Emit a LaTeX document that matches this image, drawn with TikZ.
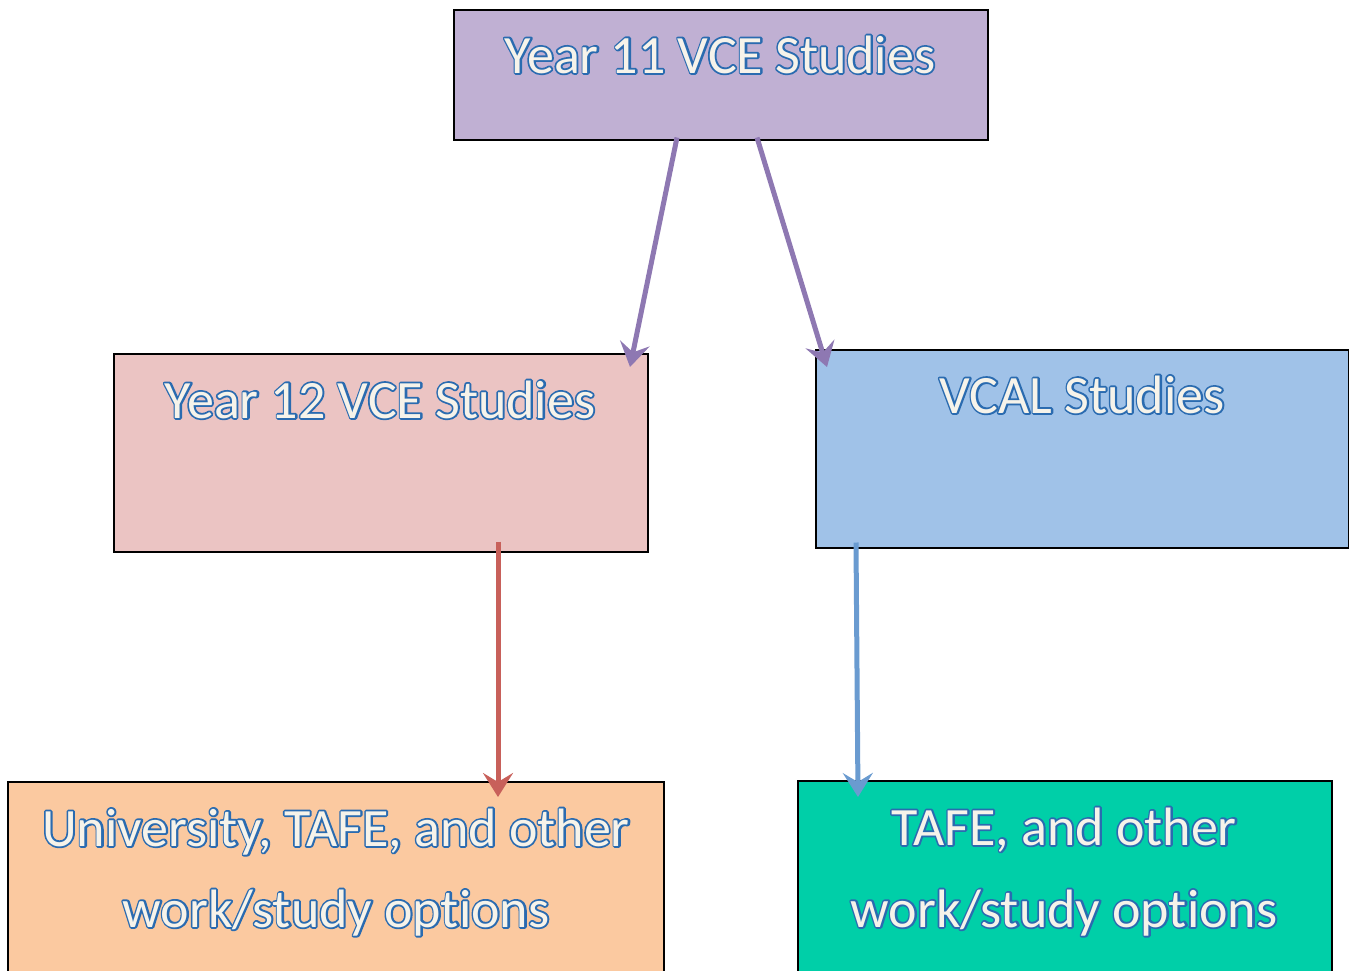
\documentclass[tikz,border=0pt]{standalone}
\usepackage{fontspec}
\setmainfont[Ligatures={NoCommon}]{Carlito}
\usetikzlibrary{arrows.meta,calc}
\definecolor{topfill}{HTML}{C0B0D3}
\definecolor{redfill}{HTML}{EBC4C3}
\definecolor{bluefill}{HTML}{A0C2E8}
\definecolor{orangefill}{HTML}{FBC9A0}
\definecolor{greenfill}{HTML}{00CFA8}
\definecolor{purplearrow}{HTML}{8E78B2}
\definecolor{redarrow}{HTML}{C8605A}
\definecolor{bluearrow}{HTML}{6A9BD0}
\definecolor{txtfill}{HTML}{F6F3EA}
\definecolor{txtline}{HTML}{2A6BB0}
% outline colour 2A6BB0 = 0.165 0.420 0.690
\newcommand{\glowtext}[1]{\rlap{\textcolor{txtline}{\special{pdf:literal direct 2 Tr 3.6 w 1 J 1 j 0.165 0.420 0.690 RG}#1\special{pdf:literal direct 0 Tr 1.5 w 0 J 0 j}}}\textcolor{txtfill}{#1}}
\tikzset{
  box/.style={draw=black, line width=1.5pt, rectangle, inner sep=0pt, anchor=north west},
  lbl/.style={anchor=base, inner sep=0pt, font=\fontsize{54}{60}\selectfont},
  conn/.style={line width=5pt, -{Stealth[length=24pt,width=30pt,inset=9pt]}},
}
\begin{document}
\begin{tikzpicture}[x=1pt,y=-1pt]
\useasboundingbox (0,0) rectangle (1349,970);
\node[box, fill=topfill, minimum width=534pt, minimum height=130pt] (top) at (453,9) {};
\node[box, fill=redfill, minimum width=534pt, minimum height=198pt] (y12) at (113,353) {};
\node[box, fill=bluefill, minimum width=533pt, minimum height=198pt] (vcal) at (815,349) {};
\node[box, fill=orangefill, minimum width=656pt, minimum height=200pt] (uni) at (7,781) {};
\node[box, fill=greenfill, minimum width=534pt, minimum height=200pt] (tafe) at (797,780) {};

\coordinate (a1s) at ($(top.south west)+(224,-3)$);
\coordinate (a1e) at ($(y12.north west)+(517,14)$);
\coordinate (a2s) at ($(top.south west)+(304,-3)$);
\coordinate (a2e) at ($(vcal.north west)+(12,18)$);
\coordinate (a3s) at ($(y12.south west)+(385,-11)$);
\coordinate (a3e) at ($(uni.north west)+(491,16)$);
\coordinate (a4s) at ($(vcal.south west)+(41,-6)$);
\coordinate (a4e) at ($(tafe.north west)+(61,17)$);
\draw[conn, purplearrow] (a1s) -- (a1e);
\draw[conn, purplearrow] (a2s) -- (a2e);
\draw[conn, redarrow] (a3s) -- (a3e);
\draw[conn, bluearrow] (a4s) -- (a4e);

\node[lbl] (ttop) at (720,73) {\glowtext{Year 11 VCE Studies}};
\node[lbl] (ty12) at (380,418) {\glowtext{Year 12 VCE Studies}};
\node[lbl] (tvcal) at (1082,413) {\glowtext{VCAL Studies}};
\node[lbl] (tuni1) at (336,846) {\glowtext{University, TAFE, and other}};
\node[lbl] (tuni2) at (336,927) {\glowtext{work/study options}};
\node[lbl] (ttafe1) at (1064,845) {\glowtext{TAFE, and other}};
\node[lbl] (ttafe2) at (1064,927) {\glowtext{work/study options}};
\end{tikzpicture}
\end{document}
